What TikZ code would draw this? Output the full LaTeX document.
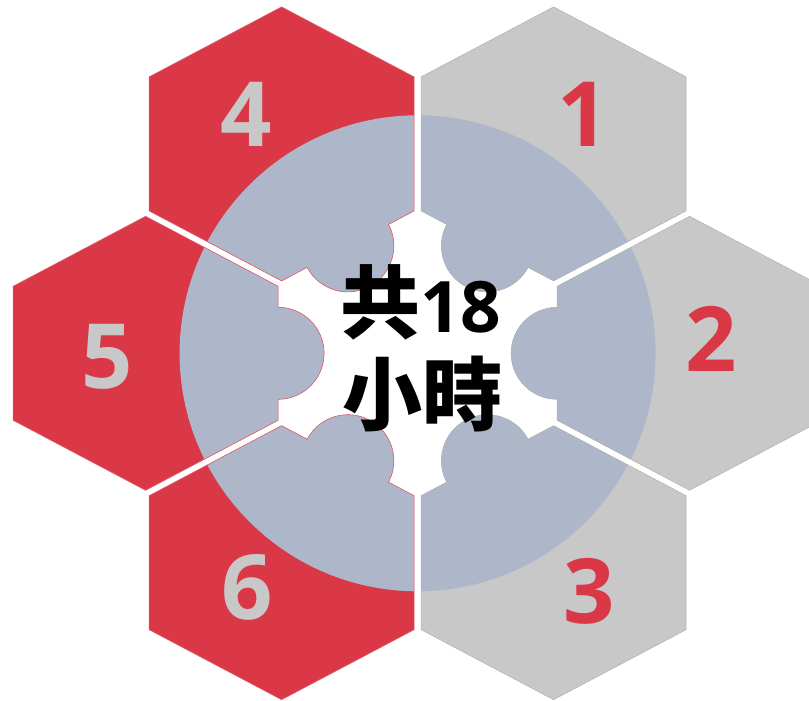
\documentclass[tikz,border=0pt]{standalone}
\usepackage{fontspec}
\newfontfamily\numfont{Open Sans}
\newfontfamily\cjkfont{Noto Sans CJK TC}
\usetikzlibrary{calc}

\definecolor{cellred}{HTML}{DA3847}
\definecolor{cellgrey}{HTML}{C8C8C8}
\definecolor{discblue}{HTML}{ADB7C9}

% outline of each piece: hexagon, its inner side bulging out in a half disc
\newcommand{\pieceone}{(c1-3) -- (c1-4) -- (c1-5) -- (c1-0) -- (c1-1) -- (c1-2) -- ($(m1)+(152.15:46)$) arc[start angle=152.15, end angle=332.15, radius=46] -- cycle}
\newcommand{\piecetwo}{(c2-2) -- (c2-3) -- (c2-4) -- (c2-5) -- (c2-0) -- (c2-1) -- ($(m2)+(90:46)$) arc[start angle=90, end angle=270, radius=46] -- cycle}
\newcommand{\piecethree}{(c3-1) -- (c3-2) -- (c3-3) -- (c3-4) -- (c3-5) -- (c3-0) -- ($(m3)+(27.85:46)$) arc[start angle=27.85, end angle=207.85, radius=46] -- cycle}
\newcommand{\piecefour}{(c4-4) -- (c4-5) -- (c4-0) -- (c4-1) -- (c4-2) -- (c4-3) -- ($(m4)+(207.85:46)$) arc[start angle=207.85, end angle=387.85, radius=46] -- cycle}
\newcommand{\piecefive}{(c5-5) -- (c5-0) -- (c5-1) -- (c5-2) -- (c5-3) -- (c5-4) -- ($(m5)+(270:46)$) arc[start angle=270, end angle=450, radius=46] -- cycle}
\newcommand{\piecesix}{(c6-0) -- (c6-1) -- (c6-2) -- (c6-3) -- (c6-4) -- (c6-5) -- ($(m6)+(332.15:46)$) arc[start angle=332.15, end angle=512.15, radius=46] -- cycle}

\begin{document}
\begin{tikzpicture}[x=1pt, y=1pt]

\tikzstyle{redcell} = [fill=cellred]
\tikzstyle{greycell} = [fill=cellgrey]
\tikzstyle{redrim} = [draw=cellred!80!white, line width=0.6pt]
\tikzstyle{greyrim} = [draw=cellgrey!88!black, line width=0.5pt]
\tikzstyle{disc} = [fill=discblue]
\tikzstyle{rednum} = [text=cellred, font=\numfont\bfseries\fontsize{90}{90}\selectfont, anchor=base, inner sep=0]
\tikzstyle{greynum} = [rednum, text=cellgrey]
\tikzstyle{hours} = [font=\cjkfont\bfseries\fontsize{80}{80}\selectfont, anchor=base, inner sep=0]

\useasboundingbox (-417.6,-347.7) rectangle (391.4,353.3);

\coordinate (o) at (0,0);
\foreach \p/\x/\y in {1/136/209.4, 2/272/0, 3/136/-209.4, 4/-136/209.4, 5/-272/0, 6/-136/-209.4} {
  \coordinate (c\p) at (\x,\y);
  \coordinate (c\p-0) at (\x,\y+137);
  \coordinate (c\p-1) at (\x-132.5,\y+67);
  \coordinate (c\p-2) at (\x-132.5,\y-67);
  \coordinate (c\p-3) at (\x,\y-137);
  \coordinate (c\p-4) at (\x+132.5,\y-67);
  \coordinate (c\p-5) at (\x+132.5,\y+67);
}

\coordinate (m1) at ($(c1-2)!0.5!(c1-3)$);
\coordinate (m2) at ($(c2-1)!0.5!(c2-2)$);
\coordinate (m3) at ($(c3-0)!0.5!(c3-1)$);
\coordinate (m4) at ($(c4-3)!0.5!(c4-4)$);
\coordinate (m5) at ($(c5-4)!0.5!(c5-5)$);
\coordinate (m6) at ($(c6-5)!0.5!(c6-0)$);

\fill[greycell] \pieceone;
\fill[greycell] \piecetwo;
\fill[greycell] \piecethree;
\fill[redcell] \piecefour;
\fill[redcell] \piecefive;
\fill[redcell] \piecesix;

\begin{scope}
\clip \pieceone \piecetwo \piecethree \piecefour \piecefive \piecesix;
\fill[disc] (o) circle (238);
\end{scope}

\draw[greyrim] \pieceone;
\draw[greyrim] \piecetwo;
\draw[greyrim] \piecethree;
\draw[redrim] \piecefour;
\draw[redrim] \piecefive;
\draw[redrim] \piecesix;

\node[rednum] (n1) at (165.7,206.6) {1};
\node[rednum] (n2) at (293.4,-18.4) {2};
\node[rednum] (n3) at (171.2,-269.7) {3};
\node[greynum] (n4) at (-171.4,206.6) {4};
\node[greynum] (n5) at (-310.1,-35.7) {5};
\node[greynum] (n6) at (-170.1,-265.7) {6};

\node[hours] (total) at (3.3,20.6) {共{\numfont\fontsize{71}{71}\selectfont 18}};
\node[hours] (hrs) at (5.3,-71) {小時};
\end{tikzpicture}
\end{document}
